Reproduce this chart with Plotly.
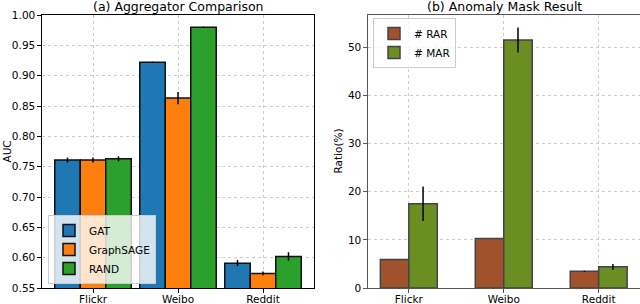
import plotly.graph_objects as go

datasets = ["Flickr", "Weibo", "Reddit"]

agg_names = ["GAT", "GraphSAGE", "RAND"]
gat_auc = [0.761, 0.922, 0.591]
gat_err = [0.004, 0.001, 0.005]
sage_auc = [0.761, 0.863, 0.574]
sage_err = [0.004, 0.010, 0.003]
rand_auc = [0.763, 0.980, 0.602]
rand_err = [0.004, 0.001, 0.007]

mask_names = ["# RAR", "# MAR"]
rar_ratio = [5.9, 10.3, 3.5]
rar_err = [0.0, 0.0, 0.1]
mar_ratio = [17.5, 51.5, 4.4]
mar_err = [3.6, 2.6, 0.6]

agg_colors = ["#1f77b4", "#ff7f0e", "#2ca02c"]
mask_colors = ["#a0522d", "#6b8e23"]

FONT = "DejaVu Sans"
fig = go.Figure()

left_vals = [gat_auc, sage_auc, rand_auc]
left_errs = [gat_err, sage_err, rand_err]
offsets_l = [-0.45, -0.15, 0.15]
for name, vals, errs, col, off in zip(agg_names, left_vals, left_errs, agg_colors, offsets_l):
    fig.add_trace(go.Bar(
        x=datasets, y=vals, name=name, width=0.3, offset=off,
        marker=dict(color=col, line=dict(color="#111111", width=1.5)),
        error_y=dict(type="data", array=errs, color="black", thickness=1.5, width=0),
        xaxis="x", yaxis="y", legend="legend",
    ))

right_vals = [rar_ratio, mar_ratio]
right_errs = [rar_err, mar_err]
offsets_r = [-0.3, 0.0]
for name, vals, errs, col, off in zip(mask_names, right_vals, right_errs, mask_colors, offsets_r):
    fig.add_trace(go.Bar(
        x=datasets, y=vals, name=name, width=0.3, offset=off,
        marker=dict(color=col, line=dict(color="#444444", width=1.5)),
        error_y=dict(type="data", array=errs, color="black", thickness=1.5, width=0),
        xaxis="x2", yaxis="y2", legend="legend2",
    ))

W, H = 640, 304
ytop = 1 - 15 / H
ybot = 1 - 288 / H


def axstyle(linecolor, **extra):
    d = dict(
        showline=True, linecolor=linecolor, linewidth=1.3, mirror=True,
        ticks="outside", ticklen=3.5, tickcolor=linecolor,
        tickfont=dict(family=FONT, size=10.5, color="black"),
        showgrid=True, gridcolor="#cccccc", griddash="dot", gridwidth=1,
        zeroline=False, automargin=False,
    )
    d.update(extra)
    return d


fig.update_layout(
    width=W, height=H, margin=dict(l=0, r=0, t=0, b=0, autoexpand=False),
    paper_bgcolor="white", plot_bgcolor="white",
    barmode="overlay",
    font=dict(family=FONT, size=11, color="black"),
    xaxis=dict(domain=[42 / W, 314 / W], anchor="y", type="category",
               range=[-0.6, 2.6], **axstyle("black", ticklabelstandoff=-2)),
    yaxis=dict(domain=[ybot, ytop], anchor="x", range=[0.55, 1.0], dtick=0.05,
               tick0=0.55, tickformat=".2f", **axstyle("black")),
    xaxis2=dict(domain=[368 / W, 639.5 / W], anchor="y2", type="category",
                range=[-0.43, 2.43], **axstyle("#555555", ticklabelstandoff=-2)),
    yaxis2=dict(domain=[ybot, ytop], anchor="x2", range=[0, 56.7], dtick=10,
                **axstyle("#555555")),
    legend=dict(x=48 / W, y=1 - 284 / H, xanchor="left", yanchor="bottom",
                bgcolor="rgba(255,255,255,0.8)", bordercolor="#cccccc", borderwidth=1,
                font=dict(family=FONT, size=10.5), tracegroupgap=0, itemwidth=30),
    legend2=dict(x=373 / W, y=1 - 18 / H, xanchor="left", yanchor="top",
                 bgcolor="rgba(255,255,255,0.8)", bordercolor="#cccccc", borderwidth=1,
                 font=dict(family=FONT, size=10.5), tracegroupgap=0, itemwidth=30),
    annotations=[
        dict(text="(a) Aggregator Comparison", x=(42 + 314) / 2 / W, y=ytop,
             xref="paper", yref="paper", xanchor="center", yanchor="bottom",
             showarrow=False, yshift=-1, font=dict(family=FONT, size=12.5)),
        dict(text="(b) Anomaly Mask Result", x=(368 + 640) / 2 / W, y=ytop,
             xref="paper", yref="paper", xanchor="center", yanchor="bottom",
             showarrow=False, yshift=-1, font=dict(family=FONT, size=12.5)),
        dict(text="AUC", x=6 / W, y=(ybot + ytop) / 2, xref="paper", yref="paper",
             xanchor="center", yanchor="middle", textangle=-90, showarrow=False,
             font=dict(family=FONT, size=10.5)),
        dict(text="Ratio(%)", x=337 / W, y=(ybot + ytop) / 2, xref="paper", yref="paper",
             xanchor="center", yanchor="middle", textangle=-90, showarrow=False,
             font=dict(family=FONT, size=10.5)),
    ],
)

fig.write_html(
    "out.html",
    config={"displayModeBar": False},
    post_script="document.body.style.margin='0';document.body.style.overflow='hidden';",
)
